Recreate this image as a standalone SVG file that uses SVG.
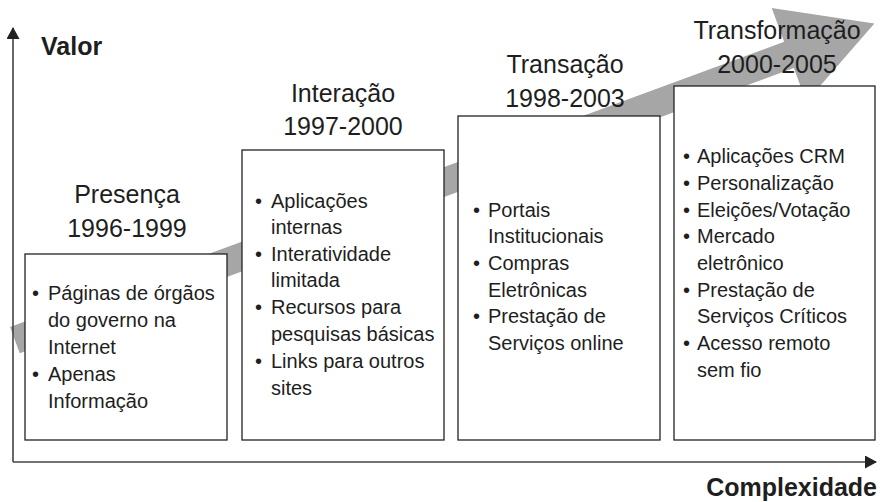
<svg xmlns="http://www.w3.org/2000/svg" width="883" height="502" viewBox="0 0 883 502">
<defs>
<style>
.box{fill:#fff;stroke:#222;stroke-width:1.3}
.title{font-family:"Liberation Sans",Arial,sans-serif;font-size:25px;fill:#1e1e1e;text-anchor:middle}
.item{font-family:"Liberation Sans",Arial,sans-serif;font-size:20px;fill:#1e1e1e}
.axisLabel{font-family:"Liberation Sans",Arial,sans-serif;font-size:25px;font-weight:bold;fill:#1e1e1e}
.axis{stroke:#444;stroke-width:1.6;fill:none}
</style>
<marker id="ah" markerWidth="12" markerHeight="13" refX="11" refY="6.5" orient="auto" markerUnits="userSpaceOnUse" viewBox="0 0 12 13">
<path d="M0,0 L12,6.5 L0,13 Z" fill="#222"/>
</marker>
</defs>
<rect width="883" height="502" fill="#fff"/>
<g id="trend-arrow">
<polygon transform="translate(14.9,340.2) rotate(-20.23)" points="0,-14 825,-14 825,-50 916,0 825,50 825,14 0,14" fill="#a6a6a6"/>
</g>
<g id="connectors">
<line class="axis" x1="13" y1="462" x2="13" y2="28" marker-end="url(#ah)"/>
<line class="axis" x1="13" y1="462" x2="876" y2="462" marker-end="url(#ah)"/>
</g>
<text class="axisLabel" x="41" y="55">Valor</text>
<text class="axisLabel" x="877" y="496" text-anchor="end" font-size="24">Complexidade</text>
<g id="presenca">
<text class="title" x="127" y="203">Presença</text>
<text class="title" x="127" y="237">1996-1999</text>
<rect class="box" x="25" y="254" width="202" height="186"/>
<text class="item" x="32" y="300">•</text><text class="item" x="48" y="300">Páginas de órgãos</text>
<text class="item" x="48" y="327">do governo na</text>
<text class="item" x="48" y="354">Internet</text>
<text class="item" x="32" y="381">•</text><text class="item" x="48" y="381">Apenas</text>
<text class="item" x="48" y="408">Informação</text>
</g>
<g id="interacao">
<text class="title" x="343" y="102">Interação</text>
<text class="title" x="343" y="135">1997-2000</text>
<rect class="box" x="242" y="150" width="202" height="290"/>
<text class="item" x="255" y="208">•</text><text class="item" x="271" y="208">Aplicações</text>
<text class="item" x="271" y="234">internas</text>
<text class="item" x="255" y="261">•</text><text class="item" x="271" y="261">Interatividade</text>
<text class="item" x="271" y="287">limitada</text>
<text class="item" x="255" y="314">•</text><text class="item" x="271" y="314">Recursos para</text>
<text class="item" x="271" y="341">pesquisas básicas</text>
<text class="item" x="255" y="368">•</text><text class="item" x="271" y="368">Links para outros</text>
<text class="item" x="271" y="395">sites</text>
</g>
<g id="transacao">
<text class="title" x="565" y="73">Transação</text>
<text class="title" x="565" y="107">1998-2003</text>
<rect class="box" x="458" y="116" width="202" height="324"/>
<text class="item" x="473" y="217">•</text><text class="item" x="488" y="217">Portais</text>
<text class="item" x="488" y="243">Institucionais</text>
<text class="item" x="473" y="270">•</text><text class="item" x="488" y="270">Compras</text>
<text class="item" x="488" y="297">Eletrônicas</text>
<text class="item" x="473" y="323">•</text><text class="item" x="488" y="323">Prestação de</text>
<text class="item" x="488" y="350">Serviços online</text>
</g>
<g id="transformacao">
<text class="title" x="777" y="39">Transformação</text>
<text class="title" x="777" y="73">2000-2005</text>
<rect class="box" x="674" y="86" width="201" height="354"/>
<text class="item" x="683" y="163">•</text><text class="item" x="697" y="163">Aplicações CRM</text>
<text class="item" x="683" y="190">•</text><text class="item" x="697" y="190">Personalização</text>
<text class="item" x="683" y="217">•</text><text class="item" x="697" y="217">Eleições/Votação</text>
<text class="item" x="683" y="243">•</text><text class="item" x="697" y="243">Mercado</text>
<text class="item" x="697" y="270">eletrônico</text>
<text class="item" x="683" y="297">•</text><text class="item" x="697" y="297">Prestação de</text>
<text class="item" x="697" y="323">Serviços Críticos</text>
<text class="item" x="683" y="350">•</text><text class="item" x="697" y="350">Acesso remoto</text>
<text class="item" x="697" y="377">sem fio</text>
</g>
</svg>
